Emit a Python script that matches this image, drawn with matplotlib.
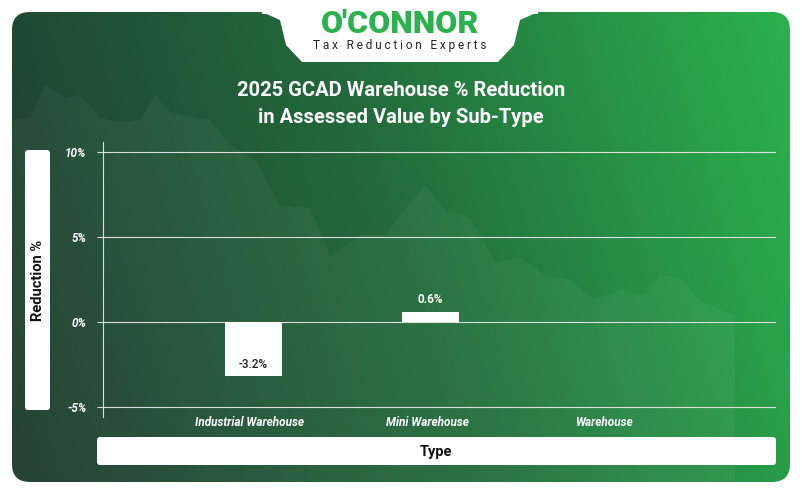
import matplotlib
matplotlib.use("agg")
import matplotlib.pyplot as plt
import numpy as np
from matplotlib.patches import FancyBboxPatch, Polygon
from matplotlib.colors import LinearSegmentedColormap

categories = ["Industrial Warehouse", "Mini Warehouse", "Warehouse"]
values = [-3.2, 0.6, 0.0]
ytick_vals = [-5, 0, 5, 10]
ytick_labels = ["-5%", "0%", "5%", "10%"]

W, H = 802, 494
fig = plt.figure(figsize=(W / 100, H / 100), dpi=100)
fig.patch.set_facecolor("white")

bg = fig.add_axes([0, 0, 1, 1])
bg.set_xlim(0, W)
bg.set_ylim(H, 0)
bg.axis("off")

# gradient card
cmap = LinearSegmentedColormap.from_list("g", ["#1e3a2f", "#236b3c", "#2bb24e"])
xx = np.linspace(0, 1, 400)
yy = np.linspace(0, 1, 200)
grad = xx[None, :] * 0.85 + (1 - yy[:, None]) * 0.15
img = bg.imshow(grad, cmap=cmap, extent=[12, 790, 482, 12], aspect="auto", zorder=0)
card = FancyBboxPatch((12, 12), 778, 470, boxstyle="round,pad=0,rounding_size=18",
                      transform=bg.transData, facecolor="none", edgecolor="none")
bg.add_patch(card)
img.set_clip_path(card)

# faint mountain silhouette
mx = [12, 30, 45, 65, 80, 100, 120, 140, 155, 170, 190, 210, 230, 255, 280, 310, 330, 360,
      385, 405, 425, 445, 470, 495, 520, 545, 570, 595, 620, 645, 660, 680, 700, 720, 735, 735]
my = [120, 118, 85, 98, 95, 118, 122, 120, 95, 112, 117, 120, 145, 160, 205, 208, 255, 235,
      235, 210, 185, 210, 218, 262, 258, 275, 280, 300, 290, 295, 275, 278, 300, 310, 315, 482]
mx = mx + [12]
my = my + [482]
mount = Polygon(list(zip(mx, my)), closed=True, facecolor="#ffffff", alpha=0.045,
                edgecolor="none", zorder=1)
bg.add_patch(mount)
mount.set_clip_path(card)

# logo tab
tab = Polygon([(262, 12), (280, 20), (286, 45), (302, 62), (498, 62), (514, 45), (520, 20), (538, 12)],
              closed=True, facecolor="white", edgecolor="none", zorder=2)
bg.add_patch(tab)
bg.add_patch(FancyBboxPatch((262, 0), 276, 14, boxstyle="square,pad=0", facecolor="white",
                            edgecolor="none", zorder=2))
bg.text(400, 24, "O'CONNOR", ha="center", va="center", fontsize=23, fontweight="black",
        color="#2bb24e", family="Roboto", zorder=3)
bg.text(400, 46, "T a x   R e d u c t i o n   E x p e r t s", ha="center", va="center", fontsize=8.5,
        color="#222222", family="Roboto", zorder=3)

bg.text(401, 91, "2025 GCAD Warehouse % Reduction", ha="center", va="center", fontsize=14.5,
        fontweight="bold", color="white", family="Roboto", zorder=3)
bg.text(401, 117, "in Assessed Value by Sub-Type", ha="center", va="center", fontsize=14.5,
        fontweight="bold", color="white", family="Roboto", zorder=3)

# axis title boxes
bg.add_patch(FancyBboxPatch((25, 150), 25, 260, boxstyle="round,pad=0,rounding_size=3",
                            facecolor="white", edgecolor="none", zorder=2))
bg.text(37.5, 280, "Reduction %", rotation=90, ha="center", va="center", fontsize=10.5,
        fontweight="bold", color="#111111", family="Roboto", zorder=3)
bg.add_patch(FancyBboxPatch((97, 437), 679, 28, boxstyle="round,pad=0,rounding_size=3",
                            facecolor="white", edgecolor="none", zorder=2))
bg.text(436, 452, "Type", ha="center", va="center", fontsize=10.5, fontweight="bold",
        color="#111111", family="Roboto", zorder=3)

ax = fig.add_axes([103 / W, 1 - 417 / H, 673 / W, 275 / H])
ax.patch.set_alpha(0)
ax.set_xlim(-0.83, 2.97)
ax.set_ylim(-5.6, 10.6)
for s in ["top", "right", "bottom"]:
    ax.spines[s].set_visible(False)
ax.spines["left"].set_color("#dddddd")
ax.spines["left"].set_linewidth(0.8)
ax.set_yticks(ytick_vals)
ax.set_yticklabels(ytick_labels, color="white", fontsize=8.5, fontweight="bold",
                   fontstyle="italic", family="Roboto")
ax.tick_params(axis="y", length=4, color="#dddddd", pad=8)
ax.set_xticks(range(len(categories)))
ax.set_xticklabels(categories, color="white", fontsize=8.5, fontweight="bold",
                   fontstyle="italic", family="Roboto")
ax.tick_params(axis="x", length=0, pad=-1)
for v in ytick_vals:
    ax.axhline(v, color="#dddddd", lw=0.8, zorder=1)

x = np.arange(len(categories))
bars = ax.bar(x + 0.02, values, width=0.32, color="white", zorder=3)
for b, v in zip(bars, values):
    if v == 0:
        continue
    if v < 0:
        ax.text(b.get_x() + b.get_width() / 2, v + 0.7, f"{v:.1f}%", ha="center", va="center",
                fontsize=8.5, color="#222222", family="Roboto", fontweight="medium", zorder=4)
    else:
        ax.text(b.get_x() + b.get_width() / 2, v + 0.75, f"{v:.1f}%", ha="center", va="center",
                fontsize=8.5, color="white", family="Roboto", fontweight="bold", zorder=4)

fig.savefig("out.png", dpi=100)
